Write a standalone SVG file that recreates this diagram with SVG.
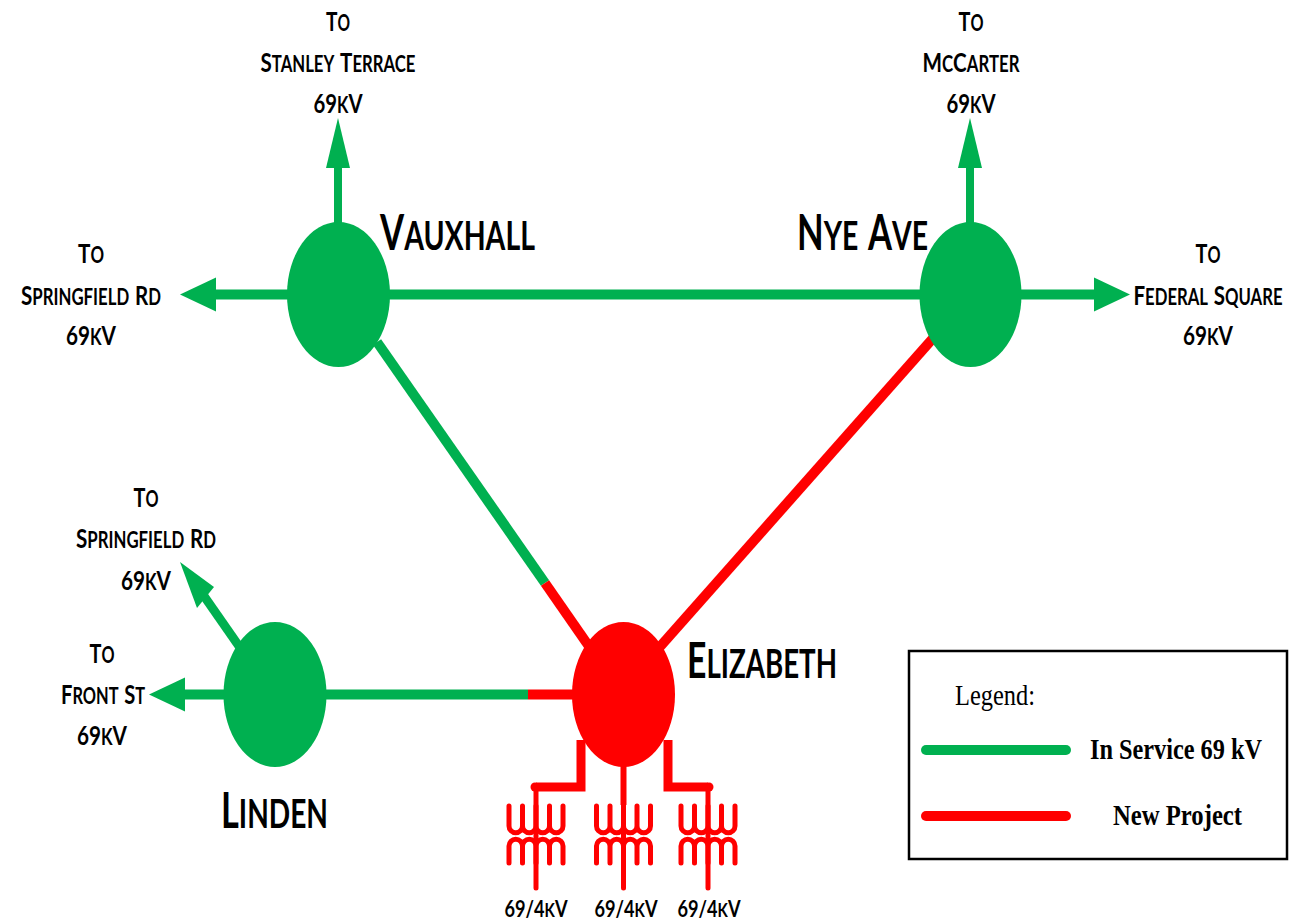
<svg xmlns="http://www.w3.org/2000/svg" width="1312" height="922" viewBox="0 0 1312 922">
<style>
.g{stroke:#00B050;fill:none;stroke-width:10}
.r{stroke:#FF0000;fill:none;stroke-width:10}
.gf{fill:#00B050}
.rf{fill:#FF0000}
.lbl{font-family:Lato,"Liberation Sans",sans-serif;font-weight:700;font-variant:small-caps;font-size:27px;text-anchor:middle;fill:#000}
.nd{font-family:Lato,"Liberation Sans",sans-serif;font-weight:700;font-variant:small-caps;font-size:50px;fill:#000}
.kv{font-family:Lato,"Liberation Sans",sans-serif;font-weight:700;font-variant:small-caps;font-size:23px;text-anchor:middle;fill:#000}
.s{font-size:116%}
.coil{stroke:#FF0000;fill:none;stroke-width:5;stroke-linecap:round}
.leg{font-family:"Liberation Serif","Times New Roman",serif;fill:#000}
</style>
<defs>
<g id="xf">
<path class="coil" d="M-27,806 V826 a6.75,6.75 0 0 0 13.5,0 V806 M-13.5,806 V826 a6.75,6.75 0 0 0 13.5,0 V806 M0,806 V826 a6.75,6.75 0 0 0 13.5,0 V806 M13.5,806 V826 a6.75,6.75 0 0 0 13.5,0 V806"/>
<path class="coil" d="M-27,863 V846 a6.75,6.75 0 0 1 13.5,0 V863 M-13.5,863 V846 a6.75,6.75 0 0 1 13.5,0 V863 M0,863 V846 a6.75,6.75 0 0 1 13.5,0 V863 M13.5,863 V846 a6.75,6.75 0 0 1 13.5,0 V863"/>
<line class="coil" x1="0" y1="787" x2="0" y2="888"/>
</g>
</defs>
<rect width="1312" height="922" fill="#fff"/>

<g id="connectors">
<line class="g" x1="338" y1="294.5" x2="970" y2="294.5"/>
<line class="g" x1="377" y1="342" x2="545" y2="583"/>
<line class="r" x1="545" y1="583" x2="595" y2="655"/>
<line class="r" x1="935" y1="336" x2="650" y2="658"/>
<line class="g" x1="300" y1="694.5" x2="528" y2="694.5"/>
<line class="r" x1="528" y1="694.5" x2="590" y2="694.5"/>
<line class="g" x1="338" y1="166" x2="338" y2="240" style="stroke-width:8"/>
<polygon class="gf" points="338,118 326,168 350,168"/>
<line class="g" x1="214" y1="294.5" x2="300" y2="294.5"/>
<polygon class="gf" points="180,294.5 216,277.5 216,311.5"/>
<line class="g" x1="970" y1="166" x2="970" y2="240" style="stroke-width:8"/>
<polygon class="gf" points="970,118 958,168 982,168"/>
<line class="g" x1="1000" y1="294.5" x2="1096" y2="294.5"/>
<polygon class="gf" points="1130,294.5 1094,277.5 1094,311.5"/>
<line class="g" x1="183" y1="694.5" x2="250" y2="694.5"/>
<polygon class="gf" points="149,694.5 185,677.5 185,711.5"/>
<line class="g" x1="250" y1="662" x2="204" y2="596" style="stroke-width:9"/>
<polygon class="gf" points="180,562 214,587 197,608"/>
<path class="r" d="M581,740 V787 H536" style="stroke-width:9;stroke-linejoin:miter"/>
<path class="r" d="M668,740 V787 H708" style="stroke-width:9;stroke-linejoin:miter"/>
<circle class="rf" cx="535" cy="787" r="4.5"/>
<circle class="rf" cx="709" cy="787" r="4.5"/>
<line class="r" x1="623.5" y1="750" x2="623.5" y2="805" style="stroke-width:6"/>
</g>

<g id="vauxhall">
<ellipse class="gf" cx="338.5" cy="294.5" rx="51.5" ry="72.5"/>
<text class="nd" x="380" y="250" textLength="155" lengthAdjust="spacingAndGlyphs">V<tspan class="s">auxhall</tspan></text>
</g>
<g id="nye-ave">
<ellipse class="gf" cx="970.5" cy="294.5" rx="51" ry="72.5"/>
<text class="nd" x="797" y="250" textLength="131" lengthAdjust="spacingAndGlyphs">N<tspan class="s">ye </tspan>A<tspan class="s">ve</tspan></text>
</g>
<g id="linden">
<ellipse class="gf" cx="275" cy="694.5" rx="51.5" ry="72.5"/>
<text class="nd" x="221" y="828" textLength="107" lengthAdjust="spacingAndGlyphs">L<tspan class="s">inden</tspan></text>
</g>
<g id="elizabeth">
<ellipse class="rf" cx="623.5" cy="694.5" rx="51.5" ry="72.5"/>
<text class="nd" x="687" y="678" textLength="150" lengthAdjust="spacingAndGlyphs">E<tspan class="s">lizabeth</tspan></text>
</g>

<g id="transformers">
<use href="#xf" transform="translate(536,0)"/>
<use href="#xf" transform="translate(623.5,0)"/>
<use href="#xf" transform="translate(708,0)"/>
<text class="kv" x="536" y="917" textLength="63" lengthAdjust="spacingAndGlyphs">69/4<tspan class="s">k</tspan>V</text>
<text class="kv" x="626" y="917" textLength="63" lengthAdjust="spacingAndGlyphs">69/4<tspan class="s">k</tspan>V</text>
<text class="kv" x="709" y="917" textLength="63" lengthAdjust="spacingAndGlyphs">69/4<tspan class="s">k</tspan>V</text>
</g>

<g id="to-stanley-terrace">
<text class="lbl" x="338" y="31" textLength="24" lengthAdjust="spacingAndGlyphs">T<tspan class="s">o</tspan></text>
<text class="lbl" x="338" y="72" textLength="155" lengthAdjust="spacingAndGlyphs">S<tspan class="s">tanley </tspan>T<tspan class="s">errace</tspan></text>
<text class="lbl" x="338" y="113" textLength="49" lengthAdjust="spacingAndGlyphs">69<tspan class="s">k</tspan>V</text>
</g>
<g id="to-mccarter">
<text class="lbl" x="971" y="31" textLength="25" lengthAdjust="spacingAndGlyphs">T<tspan class="s">o</tspan></text>
<text class="lbl" x="971" y="72" textLength="97" lengthAdjust="spacingAndGlyphs">M<tspan class="s">c</tspan>C<tspan class="s">arter</tspan></text>
<text class="lbl" x="971" y="113" textLength="49" lengthAdjust="spacingAndGlyphs">69<tspan class="s">k</tspan>V</text>
</g>
<g id="to-springfield-rd-1">
<text class="lbl" x="91" y="263" textLength="26" lengthAdjust="spacingAndGlyphs">T<tspan class="s">o</tspan></text>
<text class="lbl" x="91" y="305" textLength="140" lengthAdjust="spacingAndGlyphs">S<tspan class="s">pringfield </tspan>R<tspan class="s">d</tspan></text>
<text class="lbl" x="91" y="345" textLength="50" lengthAdjust="spacingAndGlyphs">69<tspan class="s">k</tspan>V</text>
</g>
<g id="to-federal-square">
<text class="lbl" x="1208" y="263" textLength="25" lengthAdjust="spacingAndGlyphs">T<tspan class="s">o</tspan></text>
<text class="lbl" x="1208" y="305" textLength="149" lengthAdjust="spacingAndGlyphs">F<tspan class="s">ederal </tspan>S<tspan class="s">quare</tspan></text>
<text class="lbl" x="1208" y="345" textLength="50" lengthAdjust="spacingAndGlyphs">69<tspan class="s">k</tspan>V</text>
</g>
<g id="to-springfield-rd-2">
<text class="lbl" x="146" y="507" textLength="25" lengthAdjust="spacingAndGlyphs">T<tspan class="s">o</tspan></text>
<text class="lbl" x="146" y="548" textLength="140" lengthAdjust="spacingAndGlyphs">S<tspan class="s">pringfield </tspan>R<tspan class="s">d</tspan></text>
<text class="lbl" x="146" y="590" textLength="50" lengthAdjust="spacingAndGlyphs">69<tspan class="s">k</tspan>V</text>
</g>
<g id="to-front-st">
<text class="lbl" x="102" y="663" textLength="25" lengthAdjust="spacingAndGlyphs">T<tspan class="s">o</tspan></text>
<text class="lbl" x="103" y="704" textLength="84" lengthAdjust="spacingAndGlyphs">F<tspan class="s">ront </tspan>S<tspan class="s">t</tspan></text>
<text class="lbl" x="102" y="745" textLength="50" lengthAdjust="spacingAndGlyphs">69<tspan class="s">k</tspan>V</text>
</g>

<g id="legend">
<rect x="909" y="651" width="378" height="208" fill="none" stroke="#000" stroke-width="2.5"/>
<text class="leg" x="955" y="705" font-size="30" textLength="80" lengthAdjust="spacingAndGlyphs">Legend:</text>
<line x1="926" y1="750" x2="1066" y2="750" stroke="#00B050" stroke-width="10" stroke-linecap="round"/>
<text class="leg" x="1090" y="759" font-size="30" font-weight="700" textLength="172" lengthAdjust="spacingAndGlyphs">In Service 69 kV</text>
<line x1="926" y1="816" x2="1066" y2="816" stroke="#FF0000" stroke-width="10" stroke-linecap="round"/>
<text class="leg" x="1113" y="825" font-size="30" font-weight="700" textLength="129" lengthAdjust="spacingAndGlyphs">New Project</text>
</g>
</svg>
